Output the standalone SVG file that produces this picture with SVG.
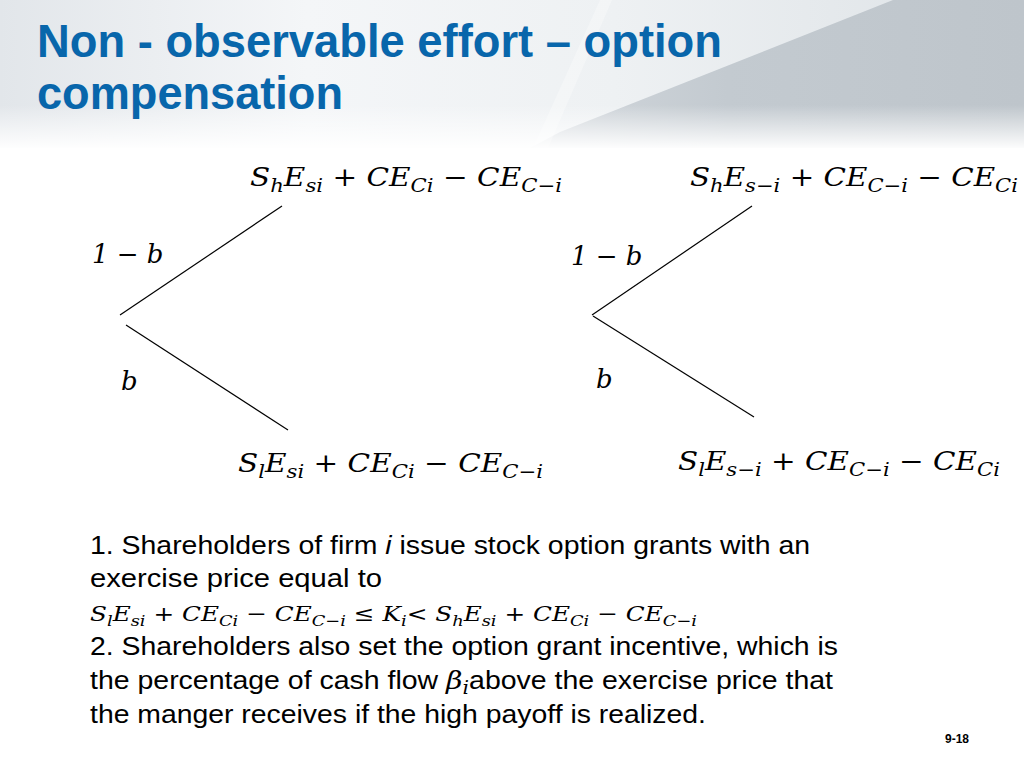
<svg xmlns="http://www.w3.org/2000/svg" width="1024" height="768" viewBox="0 0 1024 768">
<defs>
<linearGradient id="bg" x1="0" y1="0" x2="1" y2="0">
<stop offset="0" stop-color="#e2e6ea"/>
<stop offset="0.3" stop-color="#f4f6f8"/>
<stop offset="0.6" stop-color="#eef1f3"/>
<stop offset="1" stop-color="#dde2e6"/>
</linearGradient>
<linearGradient id="sh" x1="0" y1="0" x2="1" y2="0">
<stop offset="0" stop-color="#d3d8dd"/>
<stop offset="0.4" stop-color="#c3cad0"/>
<stop offset="1" stop-color="#bec5cb"/>
</linearGradient>
<linearGradient id="fade" x1="0" y1="0" x2="0" y2="1">
<stop offset="0" stop-color="#fff" stop-opacity="0"/>
<stop offset="1" stop-color="#fff" stop-opacity="1"/>
</linearGradient>
<style>
.title{font-family:"Liberation Sans",Arial,sans-serif;font-weight:bold;font-size:46px;fill:#0866ab}
.m{font-family:"DejaVu Serif","Liberation Serif",serif;font-style:italic;font-size:26px;fill:#000}
.mb{font-family:"DejaVu Serif","Liberation Serif",serif;font-style:italic;font-size:21px;fill:#000}
.s{font-size:0.72em}
.body{font-family:"Liberation Sans",Arial,sans-serif;font-size:25px;fill:#000}
.pg{font-family:"Liberation Sans",Arial,sans-serif;font-weight:bold;font-size:12px;fill:#000}
.ln{stroke:#000;stroke-width:1.2;fill:none}
</style>
</defs>
<rect width="1024" height="768" fill="#fff"/>
<g id="header">
<rect x="0" y="0" width="1024" height="148" fill="url(#bg)"/>
<polygon points="560,132 893,0 1024,0 1024,148 530,148" fill="url(#sh)"/>
<polygon points="533,148 600,0 612,0 548,148" fill="#ffffff" opacity="0.3"/>
<rect x="0" y="105" width="1024" height="45" fill="url(#fade)"/>
<text class="title" x="37" y="57" textLength="685" lengthAdjust="spacingAndGlyphs">Non - observable effort – option</text>
<text class="title" x="37" y="109" textLength="306" lengthAdjust="spacingAndGlyphs">compensation</text>
</g>
<g id="connectors">
<line class="ln" x1="120" y1="315" x2="282" y2="206"/>
<line class="ln" x1="126" y1="325" x2="288" y2="430"/>
<line class="ln" x1="592" y1="315" x2="752" y2="206"/>
<line class="ln" x1="593" y1="316" x2="754" y2="417"/>
</g>
<g id="node-top-left">
<text class="m" x="250" y="186" textLength="312" lengthAdjust="spacingAndGlyphs">S<tspan class="s" dy="6">h</tspan><tspan dy="-6">E</tspan><tspan class="s" dy="6">si</tspan><tspan dy="-6"> + CE</tspan><tspan class="s" dy="6">Ci</tspan><tspan dy="-6"> − CE</tspan><tspan class="s" dy="6">C−i</tspan></text>
</g>
<g id="node-top-right">
<text class="m" x="690" y="186" textLength="328" lengthAdjust="spacingAndGlyphs">S<tspan class="s" dy="6">h</tspan><tspan dy="-6">E</tspan><tspan class="s" dy="6">s−i</tspan><tspan dy="-6"> + CE</tspan><tspan class="s" dy="6">C−i</tspan><tspan dy="-6"> − CE</tspan><tspan class="s" dy="6">Ci</tspan></text>
</g>
<g id="label-left-1b"><text class="m" x="92" y="263">1 − b</text></g>
<g id="label-right-1b"><text class="m" x="571" y="265">1 − b</text></g>
<g id="label-left-b"><text class="m" x="121" y="390">b</text></g>
<g id="label-right-b"><text class="m" x="596" y="388">b</text></g>
<g id="node-bottom-left">
<text class="m" x="238" y="472" textLength="305" lengthAdjust="spacingAndGlyphs">S<tspan class="s" dy="6">l</tspan><tspan dy="-6">E</tspan><tspan class="s" dy="6">si</tspan><tspan dy="-6"> + CE</tspan><tspan class="s" dy="6">Ci</tspan><tspan dy="-6"> − CE</tspan><tspan class="s" dy="6">C−i</tspan></text>
</g>
<g id="node-bottom-right">
<text class="m" x="678" y="470" textLength="322" lengthAdjust="spacingAndGlyphs">S<tspan class="s" dy="6">l</tspan><tspan dy="-6">E</tspan><tspan class="s" dy="6">s−i</tspan><tspan dy="-6"> + CE</tspan><tspan class="s" dy="6">C−i</tspan><tspan dy="-6"> − CE</tspan><tspan class="s" dy="6">Ci</tspan></text>
</g>
<g id="body">
<text class="body" x="90" y="554" textLength="720" lengthAdjust="spacingAndGlyphs">1. Shareholders of firm <tspan font-style="italic">i</tspan> issue stock option grants with an</text>
<text class="body" x="90" y="587" textLength="292" lengthAdjust="spacingAndGlyphs">exercise price  equal to</text>
<text class="mb" x="90" y="621" textLength="607" lengthAdjust="spacingAndGlyphs">S<tspan class="s" dy="5">l</tspan><tspan dy="-5">E</tspan><tspan class="s" dy="5">si</tspan><tspan dy="-5"> + CE</tspan><tspan class="s" dy="5">Ci</tspan><tspan dy="-5"> − CE</tspan><tspan class="s" dy="5">C−i</tspan><tspan dy="-5"> ≤ K</tspan><tspan class="s" dy="5">i</tspan><tspan dy="-5">&lt; S</tspan><tspan class="s" dy="5">h</tspan><tspan dy="-5">E</tspan><tspan class="s" dy="5">si</tspan><tspan dy="-5"> + CE</tspan><tspan class="s" dy="5">Ci</tspan><tspan dy="-5"> − CE</tspan><tspan class="s" dy="5">C−i</tspan></text>
<text class="body" x="90" y="655" textLength="748" lengthAdjust="spacingAndGlyphs">2. Shareholders also set the option grant incentive, which is</text>
<text class="body" x="90" y="689" textLength="743" lengthAdjust="spacingAndGlyphs">the percentage of cash flow <tspan font-family="DejaVu Serif, serif" font-style="italic">β<tspan class="s" dy="5">i</tspan></tspan><tspan dy="-5">above the exercise price that</tspan></text>
<text class="body" x="90" y="723" textLength="616" lengthAdjust="spacingAndGlyphs">the manger receives if the high payoff is realized.</text>
</g>
<g id="page"><text class="pg" x="945" y="743">9-18</text></g>
</svg>
